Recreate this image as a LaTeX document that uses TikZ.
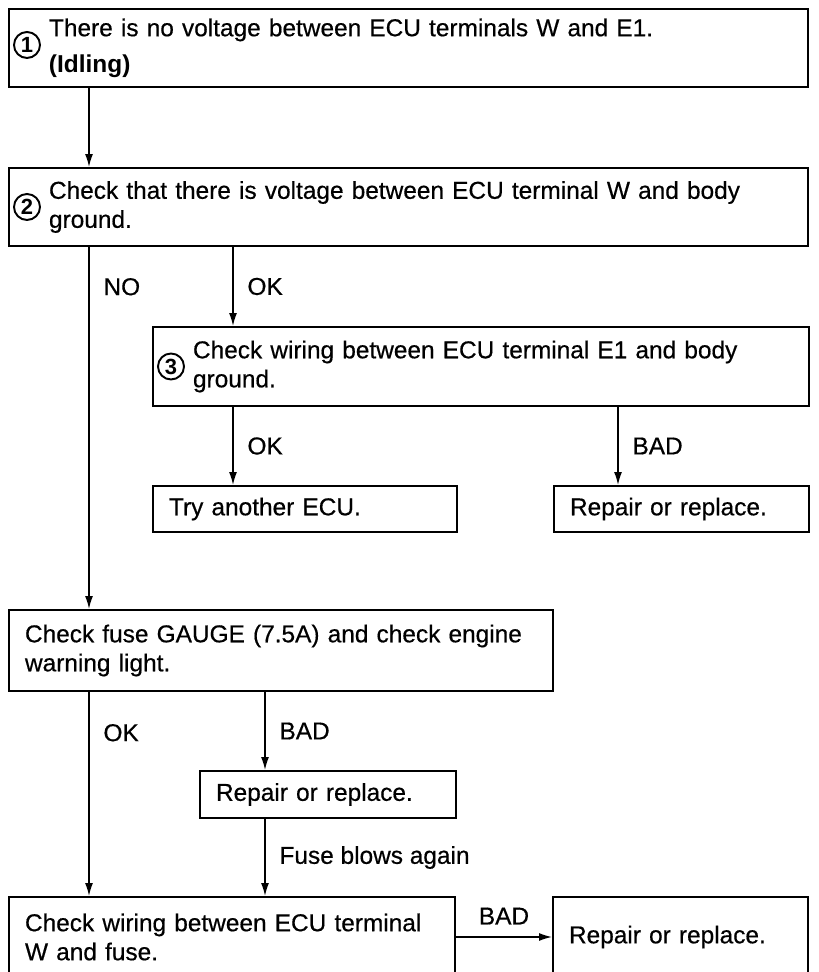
\documentclass[tikz,border=0pt]{standalone}
\usepackage{fontspec}
\setmainfont{Liberation Sans}[UprightFeatures={FakeBold=0.5}]
\usetikzlibrary{arrows.meta, positioning}

\begin{document}
\begin{tikzpicture}[
    box/.style={draw, line width=1.1pt, align=left, inner xsep=0.32cm, inner ysep=0pt,
      text width=#1-0.64cm, minimum width=#1, font=\fontsize{13.9}{16.5}\selectfont},
    numbox/.style={box=#1, execute at begin node={\leftskip=0.48cm}},
    num/.style={circle, draw, line width=1.1pt, inner sep=0pt, minimum size=0.52cm,
      font=\bfseries\fontsize{12.5}{12.5}\selectfont},
    arr/.style={-{Latex[length=2.6mm, width=1.6mm]}, line width=0.85pt},
    lbl/.style={inner sep=1pt, font=\fontsize{13.9}{16.5}\selectfont}
  ]
  \useasboundingbox (0,0) rectangle (16.38,19.44);
  \clip (0,0) rectangle (16.38,19.44);

  % columns of the vertical connectors
  \coordinate (xa) at (1.78,0);
  \coordinate (xb) at (4.66,0);
  \coordinate (xc) at (12.36,0);
  \coordinate (xd) at (5.30,0);

  % Steps 1 to 3
  \node[numbox=15.98cm, minimum height=1.56cm] (s1) at (8.17,18.48)
    {There is no voltage between ECU terminals W and E1.\\[4pt]\textbf{(Idling)}};
  \node[num, right=0.1cm of s1.west, yshift=0.06cm] (n1) {1};

  \node[numbox=15.98cm, minimum height=1.56cm] (s2) at (8.17,15.30)
    {Check that there is voltage between ECU terminal W and body\\ground.};
  \node[num, right=0.1cm of s2.west] (n2) {2};

  \node[numbox=13.12cm, minimum height=1.58cm] (s3) at (9.62,12.11)
    {Check wiring between ECU terminal E1 and body\\ground.};
  \node[num, right=0.1cm of s3.west] (n3) {3};

  \node[box=6.08cm, minimum height=0.92cm] (ecu) at (6.10,9.26) {Try another ECU.};
  \node[box=5.10cm, minimum height=0.92cm] (rep1) at (13.63,9.26) {Repair or replace.};

  % Fuse branch
  \node[box=10.88cm, minimum height=1.62cm] (fuse) at (5.62,6.43)
    {Check fuse GAUGE (7.5A) and check engine\\warning light.};
  \node[box=5.12cm, minimum height=0.94cm] (rep2) at (6.56,3.55) {Repair or replace.};

  \node[box=8.92cm, minimum height=1.60cm] (wire) at (4.64,0.70)
    {Check wiring between ECU terminal\\W and fuse.};
  \node[box=5.10cm, minimum height=1.60cm] (rep3) at (13.61,0.70) {Repair or replace.};

  % Connectors
  \draw[arr] (s1.south -| xa) -- (s2.north -| xa);
  \draw[arr] (s2.south -| xa) -- (fuse.north -| xa) node[lbl, pos=0.11, right=0.24cm] {NO};
  \draw[arr] (s2.south -| xb) -- (s3.north -| xb) node[lbl, midway, right=0.24cm] {OK};
  \draw[arr] (s3.south -| xb) -- (ecu.north -| xb) node[lbl, midway, right=0.24cm] {OK};
  \draw[arr] (s3.south -| xc) -- (rep1.north -| xc) node[lbl, midway, right=0.24cm] {BAD};

  \draw[arr] (fuse.south -| xa) -- (wire.north -| xa) node[lbl, pos=0.2, right=0.24cm] {OK};
  \draw[arr] (fuse.south -| xd) -- (rep2.north -| xd) node[lbl, midway, right=0.24cm] {BAD};
  \draw[arr] (rep2.south -| xd) -- (wire.north -| xd) node[lbl, midway, right=0.24cm] {Fuse blows again};
  \draw[arr] (wire.east) -- (rep3.west) node[lbl, midway, above=0.2cm] {BAD};
\end{tikzpicture}
\end{document}
